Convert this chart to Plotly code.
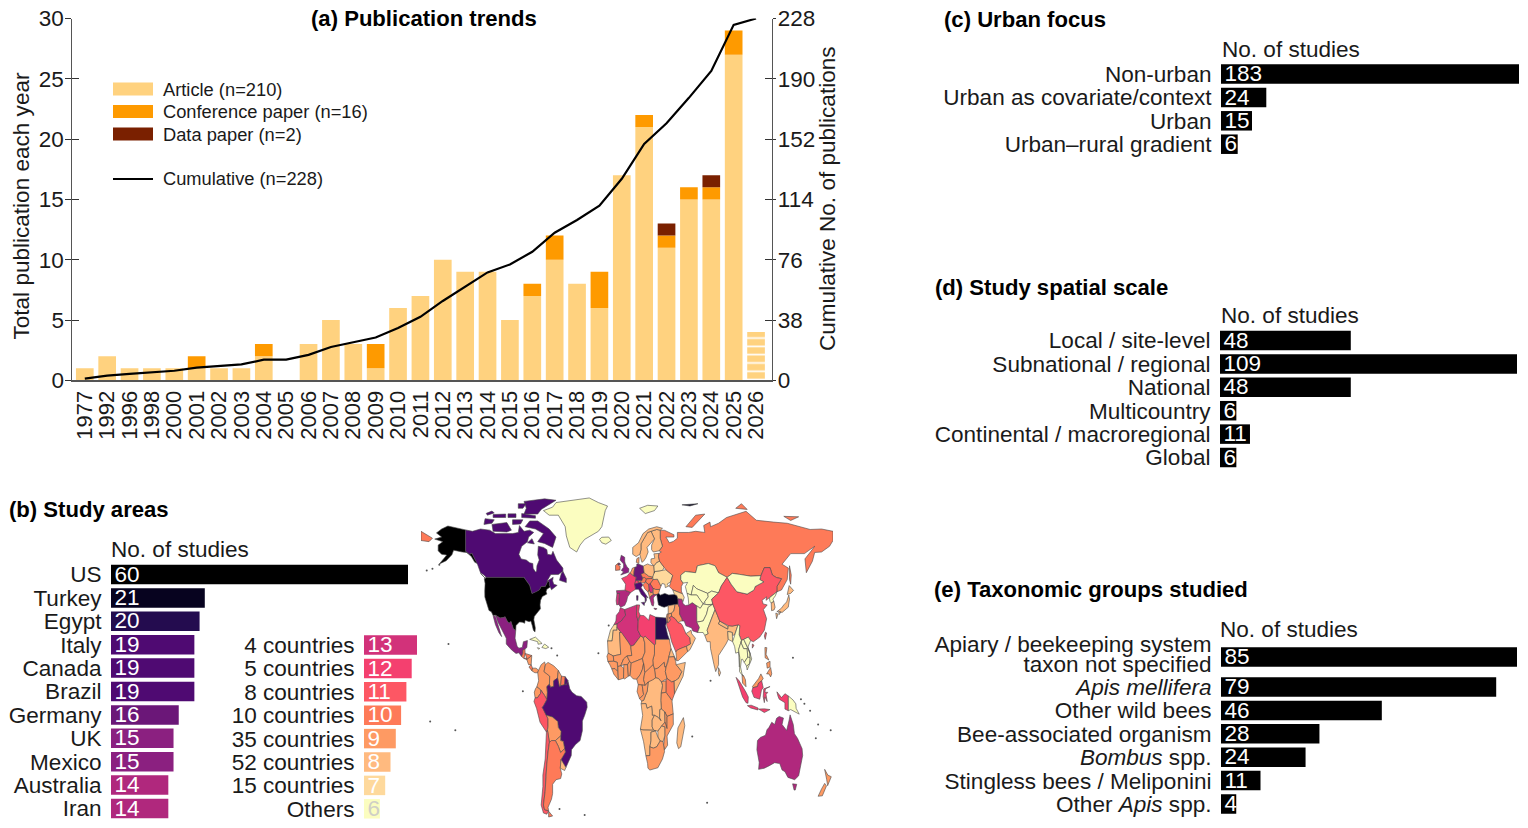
import plotly.graph_objects as go

W, H = 1528, 828
FONT = "Liberation Sans"

# ---------- Panel (a): publications per year ----------
YEARS = ["1977", "1992", "1996", "1998", "2000", "2001", "2002", "2003", "2004", "2005",
         "2006", "2007", "2008", "2009", "2010", "2011", "2012", "2013", "2014", "2015",
         "2016", "2017", "2018", "2019", "2020", "2021", "2022", "2023", "2024", "2025", "2026"]
ARTICLES = [1, 2, 1, 1, 1, 1, 1, 1, 2, 0, 3, 5, 3, 1, 6, 7, 10, 9, 9, 5, 7, 10, 8, 6, 17, 21, 11, 15, 15, 27, 4]
CONFERENCE = [0, 0, 0, 0, 0, 1, 0, 0, 1, 0, 0, 0, 0, 2, 0, 0, 0, 0, 0, 0, 1, 2, 0, 3, 0, 1, 1, 1, 1, 2, 0]
DATA_PAPERS = [0, 0, 0, 0, 0, 0, 0, 0, 0, 0, 0, 0, 0, 0, 0, 0, 0, 0, 0, 0, 0, 0, 0, 0, 0, 0, 1, 0, 1, 0, 0]
CUMULATIVE = [1, 3, 4, 5, 6, 8, 9, 10, 13, 13, 16, 21, 24, 27, 33, 40, 50, 59, 68, 73,
              81, 93, 101, 110, 127, 149, 162, 178, 195, 224, 228]
LEFT_TICKS = [0, 5, 10, 15, 20, 25, 30]
RIGHT_TICKS = [0, 38, 76, 114, 152, 190, 228]
ARTICLE_COLOR, CONF_COLOR, DATA_COLOR = "#FFD27F", "#FE9A00", "#7A2000"

# ---------- Panel (b): study areas ----------
AREA_NAMES = ["US", "Turkey", "Egypt", "Italy", "Canada", "Brazil", "Germany", "UK", "Mexico", "Australia", "Iran"]
AREA_VALUES = [60, 21, 20, 19, 19, 19, 16, 15, 15, 14, 14]
GROUP_NAMES = ["4 countries", "5 countries", "8 countries", "10 countries", "35 countries",
               "52 countries", "15 countries", "Others"]
GROUP_VALUES = [13, 12, 11, 10, 9, 8, 7, 6]
VALUE_COLORS = {60: "#000000", 21: "#07031f", 20: "#240c4f", 19: "#4f0a72", 16: "#6b1778", 15: "#8b2080",
                14: "#b0287d", 13: "#d2327a", 12: "#f4406f", 11: "#fd5764", 10: "#fe7a58", 9: "#fe9a63",
                8: "#ffba7f", 7: "#fed99c", 6: "#fbfdc0"}

# ---------- Panels (c), (d), (e) ----------
URBAN_NAMES = ["Non-urban", "Urban as covariate/context", "Urban", "Urban–rural gradient"]
URBAN_VALUES = [183, 24, 15, 6]
SCALE_NAMES = ["Local / site-level", "Subnational / regional", "National", "Multicountry",
               "Continental / macroregional", "Global"]
SCALE_VALUES = [48, 109, 48, 6, 11, 6]
TAXON_NAMES = ["<i>Apis mellifera</i>", "Other wild bees", "Bee-associated organism", "<i>Bombus</i> spp.",
               "Stingless bees / Meliponini", "Other <i>Apis</i> spp."]
TAXON_VALUES = [85, 79, 46, 28, 24, 11, 4]
TAXON_TWO_LINE = ["Apiary / beekeeping system", "taxon not specified"]

# ---------- World outlines: (name, studies, [(lon, lat), ...]) ----------
COUNTRIES = [
    ("USA", 60, [(-124.7,48.4),(-123,49),(-90,49),(-88,47.5),(-85,45.5),(-83,42),(-79,42.8),(-76.5,43.6),(-75,45),(-71.5,45),(-70.3,46.2),(-69.2,47.4),(-67.8,47),(-67.8,45.6),(-67,44.8),(-70,43.8),(-70.7,42.7),(-70,41.7),(-74,40.6),(-75.5,39),(-76,37),(-75.6,35.3),(-77.9,33.9),(-81,32),(-81.4,30.5),(-80.1,27),(-80.4,25.2),(-81.8,26),(-82.8,28),(-84,30),(-85.5,29.7),(-89,30.3),(-89.4,29),(-91.5,29.5),(-94,29.6),(-97,28),(-97.2,26),(-99.2,26.4),(-101.4,29.8),(-103,29),(-104.7,30),(-106.5,31.8),(-108.2,31.5),(-111,31.3),(-114.8,32.5),(-117.1,32.5),(-118.5,34),(-120.6,34.6),(-122.4,37.5),(-124.2,40.4),(-124.3,43),(-124,46.3)]),
    ("Alaska", 60, [(-141,69.6),(-147,70.3),(-156.5,71.3),(-162,70),(-166.5,68.3),(-162,66.5),(-168,65.6),(-161,64.5),(-165,63),(-165,60.5),(-162,59),(-157.5,58.7),(-164,54.8),(-158,56.2),(-153,58.8),(-151.5,60.8),(-149,60.5),(-144,60),(-140,59.8),(-136,58),(-133,55.5),(-130.5,55),(-133,57),(-135.5,59.5),(-137.5,59),(-141,60.3)]),
    ("Canada", 19, [(-141,69.6),(-135,69),(-128,70),(-120,69.5),(-115,68),(-108,68),(-100,68),(-95,68.5),(-94,71.5),(-90,69),(-85,69.5),(-81.5,68.5),(-86,66.5),(-87,64.5),(-92,62.5),(-94.5,59),(-92.5,57),(-88,56.5),(-85,55.3),(-82.3,55),(-82,52.9),(-80,51.3),(-79,51.6),(-78.7,54),(-76.7,56.5),(-78,58.7),(-77.5,62.5),(-73,62),(-70,61),(-69.5,59),(-66,58.7),(-64.7,60.3),(-61.5,56.5),(-56,53),(-56,51.6),(-60,50.2),(-66.5,50.2),(-70,47.3),(-64.5,49),(-65,47.5),(-64,46),(-61,45.5),(-66,43.6),(-67,44.8),(-67.8,45.6),(-67.8,47),(-69.2,47.4),(-70.3,46.2),(-71.5,45),(-75,45),(-76.5,43.6),(-79,42.8),(-83,42),(-85,45.5),(-88,47.5),(-90,49),(-123,49),(-125,50),(-128,51),(-130.5,54.5),(-133,57),(-135.5,59.5),(-137.5,59),(-141,60.3)]),
    ("Baffin", 19, [(-62,66.5),(-65,62),(-72,63.7),(-78,64.5),(-73,68),(-80,70),(-89,71),(-85,73.5),(-78,73.5),(-68,70)]),
    ("Victoria", 19, [(-117,69),(-105,68.7),(-101,69.5),(-105,72.8),(-118,72)]),
    ("Ellesmere", 19, [(-90,76.5),(-78,76.5),(-75,78.5),(-62,82.5),(-72,83.1),(-90,82),(-88,79)]),
    ("Banks", 19, [(-125,72),(-118,72.5),(-116,74),(-124,74.5)]),
    ("Devon", 19, [(-92,75),(-80,74.7),(-80,75.8),(-92,76.7)]),
    ("Melville", 19, [(-117,75),(-106,75),(-106,76.5),(-117,76.3)]),
    ("Bathurst", 19, [(-104,75),(-97,75),(-97,76.6),(-104,76.6)]),
    ("Prince Patrick", 19, [(-122,76),(-116,77),(-118,77.8),(-123,76.8)]),
    ("Axel Heiberg", 19, [(-95,79),(-91,79),(-88,81),(-95,81)]),
    ("Somerset", 19, [(-100,72),(-93,72.2),(-91,74),(-100,74)]),
    ("Southampton", 19, [(-87,64),(-81,63.5),(-83,65.8)]),
    ("Newfoundland", 19, [(-59,47.7),(-53,46.7),(-53,48.5),(-56,51.6),(-57.5,50.5)]),
    ("Vancouver Island", 19, [(-128,50.7),(-123.5,48.4),(-125,48.8)]),
    ("Greenland", 6, [(-73,78),(-68,76),(-60,76),(-54,71),(-53,67),(-50,62),(-44,60),(-41,63),(-37,65.5),(-25,69),(-22,71),(-20,75),(-19,78),(-17,80),(-25,81.5),(-33,83.5),(-48,82.5),(-62,81.5),(-65,79.5)]),
    ("Mexico", 15, [(-114.8,32.5),(-111,31.3),(-108.2,31.5),(-106.5,31.8),(-104.7,30),(-103,29),(-101.4,29.8),(-99.2,26.4),(-97.2,26),(-97.8,22.5),(-96,19),(-94.5,18.2),(-91.5,18.5),(-90.5,21),(-87,21.5),(-87.5,18.5),(-89,17.8),(-91,17.3),(-91,16),(-92.2,14.6),(-94.5,16.2),(-97,15.9),(-101,17.5),(-105.5,20),(-105.5,22.5),(-109,26),(-112.7,29.5)]),
    ("Baja California", 15, [(-117.1,32.5),(-115,32),(-112.5,28),(-109.5,23.2),(-112,25),(-115,28.5)]),
    ("Guatemala", 10, [(-92.2,14.6),(-91,16),(-91,17.3),(-89.2,17.8),(-89,15.9),(-90,13.7)]),
    ("Salvador", 10, [(-90,13.7),(-87.7,13.9),(-87.5,13.2)]),
    ("Honduras", 10, [(-89,15.9),(-83.2,15),(-87.5,13.2),(-87.7,13.9)]),
    ("Nicaragua", 9, [(-83.2,15),(-83.7,11),(-86,11),(-87.5,13.2)]),
    ("Costa Rica", 10, [(-83.7,11),(-82.6,9.5),(-83,8.3),(-85.7,10)]),
    ("Panama", 9, [(-82.6,9.5),(-79.5,9.5),(-77.3,8.6),(-78,7.5),(-80.5,7.5),(-83,8.3)]),
    ("Cuba", 6, [(-85,22),(-80,23),(-74.2,20.2),(-77.7,19.9),(-78,21)]),
    ("Hispaniola", 6, [(-74.4,18.5),(-72,20),(-68.4,18.6),(-71,18)]),
    ("Jamaica", 6, [(-78.3,18.4),(-76.3,18.1),(-77.2,17.7)]),
    ("Colombia", 9, [(-77.3,8.6),(-75,11),(-72,12.2),(-71.3,11),(-72.5,8),(-70,7),(-67.5,6),(-67.8,2.5),(-70,1.5),(-69.5,-1),(-70,-4.2),(-72,-2.4),(-75.2,-0.1),(-78.8,1.4),(-77.2,4),(-78,7.5)]),
    ("Venezuela", 9, [(-71.3,11),(-69,12),(-64,10.5),(-60,8.5),(-60.7,5.2),(-64,4),(-64,1.5),(-67,1.2),(-67.8,2.5),(-67.5,6),(-70,7),(-72.5,8)]),
    ("Guyana", 9, [(-60,8.5),(-57.2,6),(-58,1.8),(-59,1.3),(-60.7,5.2)]),
    ("Suriname", 10, [(-57.2,6),(-54,5.8),(-54.5,2.3),(-58,1.8)]),
    ("French Guiana", 19, [(-54,5.8),(-51.7,4.2),(-52.8,2.2),(-54.5,2.3)]),
    ("Ecuador", 9, [(-78.8,1.4),(-75.2,-0.1),(-75.5,-1.5),(-78.3,-3.4),(-80.3,-3.4),(-81,-1),(-80,0.5)]),
    ("Peru", 11, [(-80.3,-3.4),(-78.3,-3.4),(-75.5,-1.5),(-75.2,-0.1),(-72,-2.4),(-70,-4.2),(-73,-7),(-74,-7.5),(-70.5,-11),(-69,-12.5),(-69,-16),(-69.5,-17.5),(-70.4,-18.3),(-76,-14),(-79,-8),(-81.3,-5)]),
    ("Brazil", 19, [(-60.7,5.2),(-59,1.3),(-58,1.8),(-54.5,2.3),(-52.8,2.2),(-51.7,4.2),(-50,0.5),(-48,-1),(-44,-2.5),(-40,-2.8),(-35.2,-5.3),(-34.8,-7.5),(-37,-11),(-39,-13.5),(-39,-17.7),(-41,-22),(-45,-23.7),(-48.5,-26),(-48.7,-28.5),(-53.4,-33.7),(-57.6,-30.2),(-53.8,-27),(-54.5,-25.5),(-55.7,-22.3),(-58,-22),(-58,-20),(-57.6,-18),(-60,-16.3),(-60.5,-13.7),(-65.3,-11.7),(-70.5,-11),(-74,-7.5),(-73,-7),(-70,-4.2),(-69.5,-1),(-70,1.5),(-67.8,2.5),(-67,1.2),(-64,1.5),(-64,4)]),
    ("Bolivia", 9, [(-70.5,-11),(-65.3,-11.7),(-60.5,-13.7),(-60,-16.3),(-57.6,-18),(-58,-20),(-62.6,-22),(-66,-22),(-67.8,-22.8),(-69,-19),(-69.5,-17.5),(-69,-16),(-69,-12.5)]),
    ("Paraguay", 9, [(-58,-20),(-58,-22),(-55.7,-22.3),(-54.5,-25.5),(-58,-27.2),(-60,-24.5),(-62.6,-22)]),
    ("Chile", 11, [(-69.5,-17.5),(-69,-19),(-67.8,-22.8),(-69,-27),(-70,-32),(-71,-38),(-71.5,-44),(-73,-50),(-72,-52),(-68.5,-52.5),(-70,-54),(-73,-53.5),(-75,-50),(-73.5,-42),(-73.5,-37),(-71.5,-30),(-70.4,-18.3)]),
    ("Argentina", 10, [(-66,-22),(-62.6,-22),(-60,-24.5),(-58,-27.2),(-54.5,-25.5),(-53.8,-27),(-57.6,-30.2),(-58.3,-34),(-57,-36.5),(-58,-38.5),(-62,-39),(-65,-41),(-65,-45),(-66,-47.5),(-69,-51),(-68.5,-52.5),(-72,-52),(-73,-50),(-71.5,-44),(-71,-38),(-70,-32),(-69,-27),(-67.8,-22.8)]),
    ("Tierra del Fuego", 10, [(-68.5,-52.7),(-65,-54.8),(-68.5,-55.2)]),
    ("Uruguay", 8, [(-57.6,-30.2),(-53.4,-33.7),(-54.5,-35),(-58.3,-34)]),
    ("Morocco", 13, [(-5.9,35.8),(-2,35),(-1.2,32.5),(-5,30),(-8.7,28.7),(-11.5,28.3),(-9.7,30),(-9.3,32.5),(-6.8,34)]),
    ("Western Sahara", 7, [(-11.5,28.3),(-8.7,28.7),(-8.7,26),(-12,26),(-13,21.3),(-17,21.3),(-14.5,26)]),
    ("Mauritania", 8, [(-17,21.3),(-13,21.3),(-12,26),(-8.7,26),(-8.7,27.3),(-4.8,25),(-6.5,25),(-5.5,15.5),(-12,14.8),(-16.5,16)]),
    ("Algeria", 13, [(-2,35),(8.6,37),(8.3,32.5),(9.8,30),(9.5,26),(12,23.5),(6,19.5),(3.3,19),(1.2,20.7),(-4.8,25),(-8.7,27.3),(-8.7,28.7),(-5,30),(-1.2,32.5)]),
    ("Tunisia", 12, [(8.6,37),(11,37),(10.2,34),(11.5,32.5),(9.5,30.3),(8.3,32.5)]),
    ("Libya", 12, [(11.5,32.5),(15,32.3),(19,30.3),(20,32.8),(25,31.7),(25,20),(24,19.5),(16,23.3),(14.2,22.7),(12,23.5),(9.5,26),(9.8,30)]),
    ("Egypt", 20, [(25,31.7),(31,31.5),(34.2,31.3),(34.9,29.5),(33.6,28),(35.5,24),(37,22),(25,22)]),
    ("Sudan", 9, [(25,22),(37,22),(38.5,18),(36.5,14.3),(36,12.5),(34.2,10),(33,10),(32.5,12),(27,9.5),(24,9),(22.8,11),(22.5,13),(24,15.7),(24,19.5),(25,20)]),
    ("South Sudan", 9, [(24,9),(27,9.5),(32.5,12),(33,10),(34.2,10),(33.5,8),(35,5),(30,3.5),(27.5,5),(25,5.3)]),
    ("Eritrea", 8, [(38.5,18),(43,12.8),(41,14.5),(36.5,14.3)]),
    ("Ethiopia", 9, [(36.5,14.3),(41,14.5),(42.5,12.5),(43,11),(48,8),(45,5),(42,4),(39,3.5),(35,5),(33.5,8),(34.2,10),(36,12.5)]),
    ("Somalia", 8, [(43,11),(51,12),(49,6),(41.5,-1.7),(41,3.8),(42,4),(45,5),(48,8)]),
    ("Kenya", 10, [(35,5),(39,3.5),(41,3.8),(41.5,-1.7),(39.3,-4.6),(34,-1),(34,4)]),
    ("Uganda", 9, [(30,3.5),(34,4),(34,-1),(29.8,-1.4),(31,2)]),
    ("Tanzania", 9, [(34,-1),(39.3,-4.6),(40.4,-10.4),(35,-11.5),(33,-9.5),(30,-8.3),(29.5,-4.5),(29.8,-1.4)]),
    ("DR Congo", 8, [(12.3,-6),(12.8,-4.8),(14.5,-4.5),(16.2,-2.2),(17.7,-0.5),(18.5,3.5),(22.8,4.5),(25,5.3),(27.5,5),(30,3.5),(31,2),(29.8,-1.4),(29.5,-4.5),(30,-8.3),(28.7,-8.5),(28.5,-12),(29.8,-13.4),(27,-11.8),(24,-11),(22,-11),(22,-9.5),(21.5,-7),(17.5,-8),(16.5,-5.9)]),
    ("Angola", 8, [(12.3,-6),(16.5,-5.9),(17.5,-8),(21.5,-7),(22,-9.5),(22,-11),(24,-11),(22,-13),(22,-16),(23.3,-17.5),(18.5,-17.4),(14,-17.4),(11.7,-17),(13.7,-11),(13,-8.8)]),
    ("Zambia", 8, [(24,-11),(27,-11.8),(29.8,-13.4),(28.5,-12),(28.7,-8.5),(30,-8.3),(33,-9.5),(33.2,-14),(30.2,-15.7),(27,-17.9),(23.3,-17.5),(22,-16),(22,-13)]),
    ("Malawi", 9, [(33,-9.5),(35,-11.5),(35,-16.8),(33.2,-14)]),
    ("Mozambique", 9, [(35,-11.5),(40.4,-10.4),(40.5,-15),(35,-20),(35.5,-24),(32.8,-26),(32,-24),(33,-20),(33,-16),(30.2,-15.7),(33.2,-14),(35,-16.8)]),
    ("Zimbabwe", 8, [(27,-17.9),(30.2,-15.7),(33,-16),(33,-20),(31.5,-22.4),(29,-22.2),(27,-20.5)]),
    ("Namibia", 8, [(11.7,-17),(14,-17.4),(23.3,-17.5),(25,-17.8),(21,-18.3),(21,-22),(20,-24.7),(20,-28.5),(16.5,-28.6),(14.5,-22.5)]),
    ("Botswana", 8, [(21,-18.3),(25,-17.8),(27,-20.5),(29,-22.2),(26,-24.7),(23,-25.3),(20,-24.7),(21,-22)]),
    ("South Africa", 9, [(16.5,-28.6),(20,-28.5),(20,-24.7),(23,-25.3),(26,-24.7),(29,-22.2),(31.5,-22.4),(32,-24),(32.8,-26.8),(31,-30),(27,-33.8),(20,-34.8),(18.3,-34),(18,-32)]),
    ("Madagascar", 8, [(49.3,-12),(50.5,-15.5),(47,-24.7),(45,-25.5),(43.5,-23),(44.5,-16.5)]),
    ("Senegal", 9, [(-16.5,16),(-12,14.8),(-11.5,12.5),(-16.7,12.4),(-17.5,14.7)]),
    ("Mali", 9, [(-12,14.8),(-5.5,15.5),(-6.5,25),(-4.8,25),(1.2,20.7),(3.3,19),(4.2,15),(0,14.8),(-3,13.5),(-5.5,10.5),(-8,10.2),(-8.5,12),(-11.5,12.5)]),
    ("Guinea", 9, [(-16.7,12.4),(-11.5,12.5),(-8.5,12),(-8,10.2),(-8,8),(-10.5,9.3),(-13.3,9.2),(-15,11)]),
    ("Sierra Leone", 9, [(-13.3,9.2),(-10.5,9.3),(-8,8),(-7.5,4.4),(-11.5,6.9)]),
    ("Ivory Coast", 9, [(-8,10.2),(-5.5,10.5),(-2.8,9.5),(-3,5.1),(-7.5,4.4),(-8,8)]),
    ("Burkina Faso", 9, [(-5.5,10.5),(-3,13.5),(0,14.8),(2.3,12.5),(0.5,11),(-2.8,11)]),
    ("Ghana", 9, [(-2.8,11),(0.5,11),(1.2,6),(-2,4.8),(-3,5.1),(-2.8,9.5)]),
    ("Benin", 9, [(0.5,11),(2.3,12.5),(3.7,11.7),(2.7,6.3),(1.2,6)]),
    ("Niger", 9, [(0,14.8),(4.2,15),(3.3,19),(6,19.5),(12,23.5),(14.2,22.7),(15.5,20.5),(15.7,16.5),(13.5,13.7),(9,12.8),(3.7,11.7),(2.3,12.5)]),
    ("Nigeria", 9, [(3.7,11.7),(9,12.8),(13.5,13.7),(14.5,11.5),(13.5,9),(11.5,6.7),(8.5,4.7),(5.5,4.8),(2.7,6.3)]),
    ("Chad", 9, [(14.2,22.7),(16,23.3),(24,19.5),(24,15.7),(22.5,13),(22.8,11),(19,9),(15.5,7.5),(14.5,11.5),(13.5,13.7),(15.7,16.5),(15.5,20.5)]),
    ("Cameroon", 9, [(14.5,11.5),(15.5,7.5),(14.5,4.5),(16,2),(9.8,2.3),(8.5,4.7),(11.5,6.7),(13.5,9)]),
    ("Central African Republic", 9, [(15.5,7.5),(19,9),(22.8,11),(24,9),(25,5.3),(22.8,4.5),(18.5,3.5),(16,2),(14.5,4.5)]),
    ("Gabon", 9, [(9.8,2.3),(13.2,2.2),(14.5,-2),(11,-3.8),(8.8,-0.7)]),
    ("Congo", 9, [(13.2,2.2),(16,2),(18.5,3.5),(17.7,-0.5),(16.2,-2.2),(14.5,-4.5),(12.8,-4.8),(11,-3.8),(14.5,-2)]),
    ("Spain", 14, [(-9.2,43.2),(-1.8,43.4),(3.2,42.4),(0.5,40.5),(-0.3,38.7),(-2,36.8),(-5.5,36),(-7.3,37.2),(-7,39.5),(-6.5,42),(-8.8,41.9)]),
    ("Portugal", 13, [(-8.8,41.9),(-6.5,42),(-7,39.5),(-7.3,37.2),(-9,37),(-9.5,38.8)]),
    ("France", 12, [(-1.8,43.4),(3.2,42.4),(7.5,43.8),(6.8,46),(7.6,47.6),(8.2,49),(6,49.6),(4.5,50),(2.5,51),(0.2,49.6),(-4.7,48.5),(-1.2,46)]),
    ("Benelux", 9, [(2.5,51),(4.5,50),(6,49.6),(6.2,51.5),(7,53.4),(4.7,53),(3.5,51.4)]),
    ("Germany", 16, [(6,49.6),(8.2,49),(7.6,47.6),(13,47.5),(13.8,48.7),(12.2,50.3),(15,51),(14.2,53.9),(9.8,54.8),(8.6,54.8),(8.5,53.7),(7,53.4),(6.2,51.5)]),
    ("Denmark", 9, [(8.1,55.5),(8.6,57.1),(10.6,57.7),(10.4,55)]),
    ("Switzerland", 12, [(6.8,46),(10.4,46.6),(9.6,47.5),(7.6,47.6)]),
    ("Italy", 19, [(6.8,46),(7.5,43.8),(10.2,43.8),(12.5,41.5),(15.7,40),(16,38),(17,39),(16.8,40.5),(18.5,40),(16,41.8),(13.7,43.6),(12.3,44.5),(13.7,45.7),(12,47),(10.4,46.6)]),
    ("Sicily", 19, [(12.5,38),(15.5,38.2),(15,36.7)]),
    ("Sardinia", 19, [(8.3,41),(9.7,41),(9.5,39),(8.5,39)]),
    ("Austria", 10, [(9.6,47.5),(10.4,46.6),(12,47),(13.7,46.5),(16.2,46.9),(17,48.3),(15,49),(13.8,48.7),(13,47.5)]),
    ("Czechia", 10, [(12.2,50.3),(13.8,48.7),(15,49),(17,48.3),(22,48.5),(22.5,49.1),(19,49.5),(15,51)]),
    ("Poland", 8, [(14.2,53.9),(15,51),(19,49.5),(22.5,49.1),(24,50.8),(23.5,54),(19.8,54.4),(18,54.8)]),
    ("Hungary", 10, [(16.2,46.9),(17,48.3),(22,48.5),(22.8,48),(20.3,46.1),(18.8,45.9)]),
    ("Romania", 10, [(20.3,46.1),(22.8,48),(26.6,48.2),(29.7,45.2),(28.6,43.7),(25,43.7),(22.7,44.2)]),
    ("Bulgaria", 9, [(22.7,44.2),(25,43.7),(28.6,43.7),(27.7,42),(26,41.5),(23,41.4)]),
    ("Serbia", 13, [(18.8,45.9),(20.3,46.1),(22.7,44.2),(22.3,42.4),(20.5,42.3),(19.2,43.5)]),
    ("Croatia", 10, [(13.7,45.7),(16.2,46.9),(18.8,45.9),(19.2,43.5),(18.5,42.5),(15.5,44),(14.5,45.2)]),
    ("Albania", 9, [(18.5,42.5),(19.2,43.5),(20.5,42.3),(22.3,42.4),(23,41.4),(20.8,40.8),(20,39.7),(19.4,41.5)]),
    ("Greece", 14, [(20,39.7),(20.8,40.8),(23,41.4),(26,41.5),(24,40.8),(23,40),(23.5,38),(23,36.5),(21.7,36.8),(21,38.5)]),
    ("Crete", 14, [(23.5,35.6),(26.3,35.3),(24.5,34.9)]),
    ("Turkey", 21, [(26,41.5),(26.3,40),(26.7,38.5),(27.5,37),(30.5,36.3),(32.5,36),(36,36.6),(42,37.2),(44.7,37.3),(44.5,39.7),(43.5,41.1),(41.5,41.5),(36.5,41.3),(33,42),(29,41.2),(28,42),(26.5,41.7)]),
    ("Ukraine", 7, [(22.5,49.1),(24,50.8),(24,51.5),(31,52),(34,52.3),(40,49.8),(38,47),(35,46),(36.5,45.2),(33.5,44.5),(33,46),(30.7,46.3),(29.7,45.2),(26.6,48.2),(22.8,48)]),
    ("Belarus", 7, [(24,51.5),(31,52),(32.5,53.3),(28.5,56),(26,55.5),(23.5,54),(24,50.8)]),
    ("Baltics", 8, [(20.9,55.3),(23.5,54),(26,55.5),(28.5,56),(27.5,58),(28,59.4),(23.5,59.2),(24.3,57.3),(21,57)]),
    ("Russia", 10, [(28,59.4),(30,60),(28,60.5),(31,62.5),(29,66),(29,69.5),(33,69.4),(41,67.5),(41,66.5),(34,66.5),(37,64),(40.5,64.6),(44,66),(44,68.5),(54,68.5),(60,69),(68,68.5),(67,71.5),(72.5,73),(73,71),(80,72.5),(87,75),(104,77.7),(113,73.8),(128,73),(140,72.5),(160,69.8),(170,70),(180,69),(180,65),(177,62.5),(170,60),(164,59.8),(162,56),(156.7,51),(155.5,57),(161,60.5),(164,62.5),(155,59.3),(143,59.3),(135.5,54.7),(141,53),(140,48),(135,43.5),(131,42.7),(131,45),(135,48.4),(130.5,48.9),(127,50),(125,53.2),(120,53.2),(117,49.7),(108,49.5),(98,50.3),(92,50.7),(87.5,49),(80,51),(77,54),(71,55),(61.5,54),(60,51),(51,51.5),(47,50),(47,48),(49,46.5),(47.5,45),(47.5,43),(48.5,41.8),(45,42.5),(40,43.5),(37,45),(38,47),(40,49.8),(34,52.3),(32.5,53.3),(28.5,56),(27.5,58)]),
    ("Chukotka", 10, [(-180,69),(-170,66),(-173,64.5),(-180,65)]),
    ("Sakhalin", 10, [(142,54),(143.5,50),(143,46),(142,48)]),
    ("Novaya Zemlya", 10, [(51.5,71),(57,70.7),(68,76.5),(60,76)]),
    ("Finland", 8, [(23,60),(28,60.5),(31,62.5),(29,66),(29,69.5),(26,69.8),(21,69),(24,65.7),(21.5,63),(21.5,61)]),
    ("Sweden", 8, [(24,65.7),(21,69),(18,68.5),(15,66),(12.2,63.5),(12.2,61),(11.2,59),(13,55.5),(14.5,56),(16.5,57.5),(18.5,60),(17.5,62),(21.5,64.5)]),
    ("Norway", 8, [(5,59),(8,58),(11.2,59),(12.2,61),(12.2,63.5),(15,66),(18,68.5),(21,69),(26,69.8),(29,69.5),(31,70.3),(26,71),(19,70),(14,68),(10,64),(5,62)]),
    ("Great Britain", 15, [(-5.5,50),(1.4,51.2),(1.7,52.7),(0,53.5),(-1.5,55),(-2,56),(-2,57.7),(-5,58.6),(-6,56.5),(-3,54.8),(-3,53.4),(-5,52),(-3,51.4)]),
    ("Northern Ireland", 15, [(-8,54.4),(-5.6,54.5),(-6.5,55.2),(-7.5,55.2)]),
    ("Ireland", 10, [(-10,52),(-6.2,52.2),(-6,53.8),(-8,54.4),(-7.5,55.2),(-10,54.2)]),
    ("Iceland", 6, [(-24,65.5),(-22,64),(-18.5,63.4),(-13.7,65),(-16,66.5),(-22,66.4)]),
    ("Svalbard", 6, [(11,79),(16,76.7),(24,78),(27,80),(18,80.3)]),
    ("Franz Josef Land", 21, [(48,80.5),(62,81),(55,80)]),
    ("Severnaya Zemlya", 10, [(95,79),(105,78.5),(100,81)]),
    ("New Siberian Islands", 10, [(137,75.5),(150,75.3),(143,73.7)]),
    ("Syria", 8, [(36,36.6),(42,37.2),(41,34.4),(38.8,33.4),(36,33),(35.8,35.5)]),
    ("Israel", 9, [(35,33.1),(36,33),(35.5,29.6),(34.9,29.5),(34.2,31.3)]),
    ("Jordan", 9, [(36,33),(38.8,33.4),(39,32),(37,31.5),(38,30.5),(36,29.2),(34.9,29.5),(35.5,29.6)]),
    ("Iraq", 9, [(42,37.2),(44.7,37.3),(46,35.7),(46,33),(48,31),(48.5,30),(47,30),(44.7,29.2),(42,31),(39,32),(38.8,33.4),(41,34.4)]),
    ("Saudi Arabia", 11, [(34.9,29.5),(36,29.2),(38,30.5),(37,31.5),(39,32),(42,31),(44.7,29.2),(47,29),(48.5,28),(50,26.5),(51.5,24.5),(55,22.7),(55.5,20),(52,19),(49,18.5),(44,17.4),(42.7,16.5),(39,21),(37,25),(34.7,28)]),
    ("Yemen", 9, [(42.7,16.5),(44,17.4),(49,18.5),(52,19),(53,16.7),(45,12.8),(43.5,12.7)]),
    ("Oman", 8, [(51.5,24.5),(56,26),(56.5,24.5),(59.8,22.5),(58,20.5),(55,17.5),(53,16.7),(52,19),(55.5,20),(55,22.7)]),
    ("Iran", 14, [(44.5,39.7),(48,39.5),(49,37.5),(51,36.7),(54,37),(57,38),(61,36.6),(61,31.5),(61.7,31),(63.3,27.2),(61.7,25),(57.5,25.7),(56.5,27),(51.5,27.9),(50,30),(48.5,30),(48,31),(46,33),(46,35.7),(44.7,37.3)]),
    ("Caucasus", 7, [(40,43.5),(45,42.5),(48.5,41.8),(50,40.3),(49,38.5),(48,39.5),(44.5,39.7),(43.5,41.1),(41.5,41.5)]),
    ("Kazakhstan", 6, [(47,50),(51,51.5),(60,51),(61.5,54),(71,55),(77,54),(80,51),(87.5,49),(85,47),(82.5,45.3),(80,42.2),(74,43),(70.5,42),(66,42.9),(61,44),(58,45.5),(56,41.3),(52.5,42),(51,45),(53,46.8),(49,46.5),(47,48)]),
    ("Uzbekistan", 6, [(56,41.3),(58,45.5),(61,44),(66,42.9),(70.5,42),(71,40.5),(68,38.5),(66.5,37.4),(64,39),(61,41.3)]),
    ("Turkmenistan", 6, [(52.5,42),(56,41.3),(61,41.3),(64,39),(66.5,37.4),(64,35.5),(61,36.6),(57,38),(54,37),(53.5,40)]),
    ("Kyrgyzstan", 6, [(70.5,42),(74,43),(80,42.2),(74,39.5),(75,37.3),(71.5,37),(68,37),(68,38.5),(71,40.5)]),
    ("Afghanistan", 6, [(61,36.6),(64,35.5),(66.5,37.4),(71.5,37),(75,37.3),(71,36),(69.5,33),(66.5,30),(61,29.5),(61,31.5)]),
    ("Pakistan", 6, [(61.7,25),(63.3,27.2),(61,29.5),(66.5,30),(69.5,33),(71,36),(75,37.3),(77,35),(74.5,32),(70,26),(71,24.5),(68,23.7),(66.5,25)]),
    ("India", 8, [(68,23.7),(71,24.5),(70,26),(74.5,32),(77,35),(79,32.5),(81,30),(80,28.7),(88,26.5),(88.5,28),(92,27.8),(97,28.3),(94,24),(92.3,23.7),(92,25),(88,25.5),(88.5,22),(86.5,20),(82,16.5),(80,15),(80,11),(77.5,8),(76,11),(73,18),(72.7,21),(70,21)]),
    ("Nepal", 8, [(80,28.7),(81,30),(88,27.8),(88,26.5)]),
    ("Bangladesh", 7, [(88,25.5),(92,25),(92.3,21),(89,21.8),(88.5,22)]),
    ("Sri Lanka", 8, [(80,9.7),(81.8,7.5),(80.6,6),(79.8,7.5)]),
    ("China", 11, [(74,39.5),(80,42.2),(82.5,45.3),(85,47),(87.5,49),(91,46),(96,42.7),(105,41.7),(111,43.5),(112,45),(119.5,47),(116,48),(117,49.7),(120,53.2),(125,53.2),(127,50),(130.5,48.9),(135,48.4),(131,45),(131,42.7),(128,41.5),(124.3,40),(121.5,39),(122,40.5),(118,39),(119,37.4),(122.5,37),(119.2,35),(122,31),(120,26),(116,23),(110.5,21),(108,21.5),(106,23),(102,22),(100,21.5),(98,24),(98.5,28),(97,28.3),(92,27.8),(88.5,28),(81,30),(79,32.5),(77,35),(75,37.3)]),
    ("Hainan", 11, [(109.5,20),(111,19.5),(109.5,18.2)]),
    ("Taiwan", 11, [(121,25.2),(122,24.8),(120.8,22),(120,23.5)]),
    ("Mongolia", 6, [(87.5,49),(92,50.7),(98,50.3),(108,49.5),(117,49.7),(116,48),(119.5,47),(112,45),(111,43.5),(105,41.7),(96,42.7),(91,46)]),
    ("North Korea", 6, [(124.3,40),(128,41.5),(131,42.7),(129.7,41),(127.5,39.5),(128.3,38.5),(126,37.8),(125,38.5)]),
    ("South Korea", 8, [(126,37.8),(128.3,38.5),(129.4,36),(128.5,34.8),(126.3,34.5)]),
    ("Honshu", 8, [(130.9,34),(135,35.6),(137,37),(139.5,38.3),(141.4,41.3),(142,39.5),(140.9,36),(137,34.6),(135.5,33.7),(132.3,34.2)]),
    ("Kyushu", 8, [(130,33.4),(132,33),(130.7,31)]),
    ("Shikoku", 8, [(132.5,33.8),(134.5,34),(133,32.8)]),
    ("Hokkaido", 8, [(140,41.5),(141.7,45.4),(145.5,43.3),(143,42)]),
    ("Myanmar", 6, [(92.3,21),(94,24),(97,28.3),(98.5,28),(98,24),(100,21.5),(97.5,17.5),(98.6,14),(98.2,10),(97.5,16.5),(95,16),(94,19)]),
    ("Thailand", 6, [(100,21.5),(100,20.3),(102,18),(105,18),(105.5,14.3),(102.5,12),(100.9,13.4),(100,13.3),(99.2,10),(100.5,7),(102,6),(100.5,6.5),(98.3,8),(98.6,14),(97.5,17.5)]),
    ("Laos", 6, [(102,22),(105,19),(107.5,16),(107.5,14),(105.5,14.3),(105,18),(102,18),(100,20.3),(100,21.5)]),
    ("Vietnam", 6, [(102,22),(106,23),(108,21.5),(105.7,18.7),(109,13.5),(106.5,10),(105,8.7),(104.5,10.4),(107,11.5),(107.5,14),(107.5,16),(105,19)]),
    ("Cambodia", 6, [(102.5,12),(105.5,14.3),(107.5,14),(107,11.5),(104.5,10.4)]),
    ("Peninsular Malaysia", 9, [(100.5,6.5),(102,6),(103.5,4.5),(104,1.4),(101,3)]),
    ("Sarawak", 9, [(109.6,1.5),(111.5,2.8),(115,5),(117,7),(119,5),(117.7,4),(115,3),(114,1.5),(110,1)]),
    ("Kalimantan", 12, [(110,1),(114,1.5),(115,3),(117.7,4),(119,1),(117.5,0),(116,-4),(111,-3.2),(109,-0.5)]),
    ("Sumatra", 12, [(95.3,5.5),(98,4),(104,-1),(106,-3),(105.7,-5.8),(104,-5.5),(101,-3),(98.5,1)]),
    ("Java", 12, [(105.2,-6.8),(108.5,-6.6),(114.5,-7.8),(114.4,-8.7),(108,-7.8)]),
    ("Sulawesi", 12, [(119.5,0.5),(125,1.5),(121,0.5),(120.5,-1),(123,-1),(121.5,-2),(122.5,-5),(120.5,-3),(120,-5.5),(119,-3)]),
    ("Western New Guinea", 12, [(131,-0.8),(135,-3.3),(138,-1.6),(141,-2.6),(141,-9),(138,-8.3),(138,-5.5),(133,-4),(132,-2.8)]),
    ("Lesser Sunda", 12, [(115,-8.3),(120,-8.2),(125,-8.5),(120,-9.8)]),
    ("Papua New Guinea", 6, [(141,-2.6),(145,-4.3),(147.5,-6),(147.8,-8),(150.5,-10.5),(147,-9.5),(143,-8.5),(141,-9)]),
    ("Luzon", 9, [(120.5,18.5),(122.2,18.4),(121.5,15.5),(124,13),(120.7,14)]),
    ("Mindanao", 9, [(122,7),(123.5,8.5),(125.5,9.8),(126.5,7),(125.5,5.7),(124,7)]),
    ("Visayas", 9, [(122,11.7),(125,12.5),(125,10),(122.5,9.5)]),
    ("Australia", 14, [(114,-22),(116.5,-20.6),(121,-19.7),(122.3,-17.3),(124,-16.3),(126.5,-14),(129,-15),(130.7,-12.3),(133,-11.5),(136.7,-12.2),(135.5,-15),(139.5,-17.6),(141.7,-13),(142.5,-10.8),(145.3,-15),(146.3,-19),(149,-21),(153,-25.5),(153.5,-28.5),(152,-33),(150,-37.3),(146.5,-39),(144,-38.5),(140.6,-38),(138,-35.5),(135.5,-34.8),(133.5,-32),(129,-31.6),(124,-33),(120,-34),(115,-34.5),(115.5,-31.5),(113.5,-26)]),
    ("Tasmania", 14, [(144.7,-40.8),(148.3,-41),(147,-43.5),(146,-43.5)]),
    ("New Zealand North", 9, [(172.7,-34.5),(175.5,-37),(178.5,-37.7),(175.3,-41.6),(174.5,-39)]),
    ("New Zealand South", 9, [(172.7,-40.6),(174.3,-41.7),(170.7,-46),(167,-46.2),(170,-43)]),
]
# Islands too small to outline
ISLET_LON = [-175, -170, -164, -156, -91, -59, -37, 70, 165, 178, 167, 160, 155, -150, -172, 57, 73, -25, -16, -61, -66, 152, 145]
ISLET_LAT = [52, 52.7, 54.5, 20, -0.5, -51.7, -54.3, -49, -21, -17.5, -15, -9, -6, -17.5, -13.7, -20.2, 4, 16, 28, 15, 18.2, -4, 14]


def px_x(p):
    return p / W


def px_y(p):
    return 1 - p / H


def row_range(first_row_px, step_px, top_px, bottom_px):
    """Range of a reversed row axis so that row i sits at first_row_px + i * step_px."""
    return [(bottom_px - first_row_px) / step_px, (top_px - first_row_px) / step_px]


fig = go.Figure()
TEXT_SIZE = 22.55
TITLE_SIZE = 22.1
layout = dict(
    template="none",
    width=W, height=H, margin=dict(l=0, r=0, t=0, b=0, pad=0), autosize=False,
    paper_bgcolor="white", plot_bgcolor="white", showlegend=False, barmode="overlay",
    font=dict(family=FONT, size=TEXT_SIZE, color="#1a1a1a"),
)
annotations, shapes = [], []


def label(text, x, y, size=TEXT_SIZE, anchor="left", bold=False, angle=0):
    annotations.append(dict(
        text=f"<b>{text}</b>" if bold else text, x=px_x(x), y=px_y(y), xref="paper", yref="paper",
        xanchor=anchor, yanchor="middle", showarrow=False, textangle=angle,
        font=dict(family=FONT, size=size, color="black" if bold else "#1a1a1a"),
    ))


# ---------- Panel (a) ----------
pos = list(range(len(YEARS)))
AXIS_GRAY = "#555555"
a_x = dict(domain=[px_x(72), px_x(771.7)], range=[-0.572, 30.7], tickmode="array", tickvals=pos, ticktext=YEARS,
           tickangle=-90, ticks="", showgrid=False, zeroline=False, showline=True, linecolor=AXIS_GRAY, linewidth=1.5,
           tickfont=dict(size=22, color="#1a1a1a"), anchor="y", fixedrange=True, automargin=False)
a_dom = [px_y(380.3), px_y(18.5)]
a_y = dict(domain=a_dom, range=[0, 30], tickmode="array", tickvals=LEFT_TICKS, ticks="outside", ticklen=5.5,
           tickcolor="#333333", showgrid=False, zeroline=False, showline=True, linecolor=AXIS_GRAY, linewidth=1.2,
           tickfont=dict(size=22.5, color="#1a1a1a"), anchor="x", fixedrange=True, automargin=False,
           ticklabelstandoff=-3)
a_y_in = dict(domain=a_dom, range=[0, 30], tickmode="array", tickvals=LEFT_TICKS, ticks="inside", ticklen=6.5,
              tickcolor="#333333", showticklabels=False, showgrid=False, zeroline=False, overlaying="y",
              anchor="x", fixedrange=True, automargin=False)
a_y_right = dict(domain=a_dom, range=[0, 228], tickmode="array", tickvals=RIGHT_TICKS, ticks="outside", ticklen=3.5,
                 tickcolor="#333333", showgrid=False, zeroline=False, showline=True, linecolor=AXIS_GRAY, linewidth=1.2,
                 tickfont=dict(size=22.5, color="#1a1a1a"), side="right", overlaying="y", anchor="x", fixedrange=True,
                 automargin=False, ticklabelstandoff=-3)
a_y_right_in = dict(domain=a_dom, range=[0, 228], tickmode="array", tickvals=RIGHT_TICKS, ticks="inside", ticklen=6.5,
                    tickcolor="#333333", showticklabels=False, showgrid=False, zeroline=False, side="right",
                    overlaying="y", anchor="x", fixedrange=True, automargin=False)
layout.update(xaxis=a_x, yaxis=a_y, yaxis2=a_y_in, yaxis3=a_y_right, yaxis4=a_y_right_in)

stack_conf = ARTICLES
stack_data = [a + c for a, c in zip(ARTICLES, CONFERENCE)]
# The 2026 column is a partial year and carries a striped fill
stripes = ["-" if y == "2026" else "" for y in YEARS]
fig.add_bar(x=pos, y=ARTICLES, width=0.79, marker=dict(
    color=ARTICLE_COLOR, line_width=0,
    pattern=dict(shape=stripes, fgcolor="white", bgcolor=ARTICLE_COLOR, size=8.3, solidity=0.2, fgopacity=1)),
    xaxis="x", yaxis="y", hoverinfo="skip")
fig.add_bar(x=pos, y=CONFERENCE, base=stack_conf, width=0.79, marker=dict(color=CONF_COLOR, line_width=0),
            xaxis="x", yaxis="y", hoverinfo="skip")
fig.add_bar(x=pos, y=DATA_PAPERS, base=stack_data, width=0.79, marker=dict(color=DATA_COLOR, line_width=0),
            xaxis="x", yaxis="y", hoverinfo="skip")
fig.add_scatter(x=pos, y=CUMULATIVE, mode="lines", line=dict(color="black", width=2.2, shape="linear"),
                xaxis="x", yaxis="y3", cliponaxis=False, hoverinfo="skip")
fig.add_scatter(x=[pos[0]], y=[0], mode="markers", marker=dict(size=1, opacity=0), xaxis="x", yaxis="y2", hoverinfo="skip")
fig.add_scatter(x=[pos[0]], y=[0], mode="markers", marker=dict(size=1, opacity=0), xaxis="x", yaxis="y4", hoverinfo="skip")

label("(a) Publication trends", 424, 19, size=TITLE_SIZE, anchor="center", bold=True)
label("Total publication each year", 20.5, 206, anchor="center", angle=-90)
label("Cumulative No. of publications", 828, 199, anchor="center", angle=-90)
for text, color, y in [("Article (n=210)", ARTICLE_COLOR, 89), ("Conference paper (n=16)", CONF_COLOR, 111.5),
                       ("Data paper (n=2)", DATA_COLOR, 134)]:
    shapes.append(dict(type="rect", xref="paper", yref="paper", x0=px_x(113), x1=px_x(153), y0=px_y(y - 6.5),
                       y1=px_y(y + 6.5), fillcolor=color, line_width=0))
    label(text, 161, y, size=18.3)
shapes.append(dict(type="line", xref="paper", yref="paper", x0=px_x(113), x1=px_x(153), y0=px_y(179), y1=px_y(179),
                   line=dict(color="black", width=2)))
label("Cumulative (n=228)", 161, 179, size=18.3)

# ---------- Horizontal count bars shared by panels (b) to (e) ----------
axis_no = {"n": 4}


def count_bars(names_ticks, rows_ticks, rows, values, colors, x0, x1, start, stop, top, bottom, first, step,
               bar_px=19.5, text_colors=None):
    n = axis_no["n"] + 1
    axis_no["n"] = n
    yr = row_range(first, step, top, bottom)
    layout[f"xaxis{n}"] = dict(domain=[px_x(x0), px_x(x1)], range=[start, stop], visible=False, anchor=f"y{n}",
                               fixedrange=True, automargin=False)
    layout[f"yaxis{n}"] = dict(domain=[px_y(bottom), px_y(top)], range=yr, tickmode="array", tickvals=rows_ticks,
                               ticktext=names_ticks, ticks="outside", ticklen=4, tickcolor="rgba(0,0,0,0)",
                               showgrid=False, zeroline=False, showline=False, anchor=f"x{n}", fixedrange=True,
                               automargin=False, tickfont=dict(size=TEXT_SIZE, color="#1a1a1a"))
    fig.add_bar(y=rows, x=[v - start for v in values], base=start, orientation="h", width=bar_px / step,
                marker=dict(color=colors, line_width=0), xaxis=f"x{n}", yaxis=f"y{n}", hoverinfo="skip")
    # Value labels sit a few pixels inside the bar's left end, nudged down to centre the digits
    inset = 3.5 * (stop - start) / (x1 - x0)
    nudge = 1.5 / step
    fig.add_scatter(y=[r + nudge for r in rows], x=[start + inset] * len(rows), mode="text",
                    text=[str(v) for v in values], textposition="middle right",
                    textfont=dict(size=TEXT_SIZE, color=text_colors or "white", family=FONT),
                    xaxis=f"x{n}", yaxis=f"y{n}", cliponaxis=False, hoverinfo="skip")


# Panel (b): bars and map
label("(b) Study areas", 7, 510, size=TITLE_SIZE, bold=True)
label("No. of studies", 109, 549)
rows_b = list(range(len(AREA_NAMES)))
count_bars(AREA_NAMES, rows_b, rows_b, AREA_VALUES, [VALUE_COLORS[v] for v in AREA_VALUES],
           111, 408, 3, 60, 560, 825, 574.5, 23.4)
rows_g = list(range(len(GROUP_NAMES)))
count_bars(GROUP_NAMES, rows_g, rows_g, GROUP_VALUES, [VALUE_COLORS[v] for v in GROUP_VALUES],
           364, 417, 3, 13, 630, 825, 645, 23.4,
           text_colors=["white"] * 7 + ["#cfcfc6"])

map_n = axis_no["n"] + 1
axis_no["n"] = map_n
layout[f"xaxis{map_n}"] = dict(domain=[px_x(421), px_x(833)], range=[-180, 180], visible=False,
                               anchor=f"y{map_n}", fixedrange=True, automargin=False)
layout[f"yaxis{map_n}"] = dict(domain=[px_y(825), px_y(490)], range=[(690 - 825) / 2.3, (690 - 490) / 2.3],
                               visible=False, anchor=f"x{map_n}", fixedrange=True, automargin=False)
for name, value, outline in COUNTRIES:
    lons = [p[0] for p in outline] + [outline[0][0]]
    lats = [p[1] for p in outline] + [outline[0][1]]
    fig.add_scatter(x=lons, y=lats, mode="lines", fill="toself", fillcolor=VALUE_COLORS[value],
                    line=dict(color="#4a4a4a", width=0.6), name=name, xaxis=f"x{map_n}", yaxis=f"y{map_n}",
                    hoverinfo="skip")
fig.add_scatter(x=ISLET_LON, y=ISLET_LAT, mode="markers", marker=dict(size=2, color="#555555"),
                xaxis=f"x{map_n}", yaxis=f"y{map_n}", hoverinfo="skip")

# Panel (c)
label("(c) Urban focus", 942, 20, size=TITLE_SIZE, bold=True)
label("No. of studies", 1220, 49)
rows_c = list(range(len(URBAN_NAMES)))
count_bars(URBAN_NAMES, rows_c, rows_c, URBAN_VALUES, "black", 1221, 1519, -4.5, 183, 60, 160, 74, 23.4)

# Panel (d)
label("(d) Study spatial scale", 933, 287, size=TITLE_SIZE, bold=True)
label("No. of studies", 1219, 315)
rows_d = list(range(len(SCALE_NAMES)))
count_bars(SCALE_NAMES, rows_d, rows_d, SCALE_VALUES, "black", 1220, 1517, 0, 109, 326, 472, 340.5, 23.4)

# Panel (e): the first category wraps onto two tick lines, so its row sits further up
label("(e) Taxonomic groups studied", 932, 589, size=TITLE_SIZE, bold=True)
label("No. of studies", 1218, 629)
rows_e = [-1.28, 0, 1, 2, 3, 4, 5]
tick_rows_e = [-1.83, -0.98] + rows_e[1:]
count_bars(TAXON_TWO_LINE + TAXON_NAMES, tick_rows_e, rows_e, TAXON_VALUES, "black",
           1221, 1517, -0.4, 85, 640, 818, 687, 23.4)

layout["annotations"] = annotations
layout["shapes"] = shapes
fig.update_layout(**layout)
fig.write_html("out.html", config={"displayModeBar": False})
